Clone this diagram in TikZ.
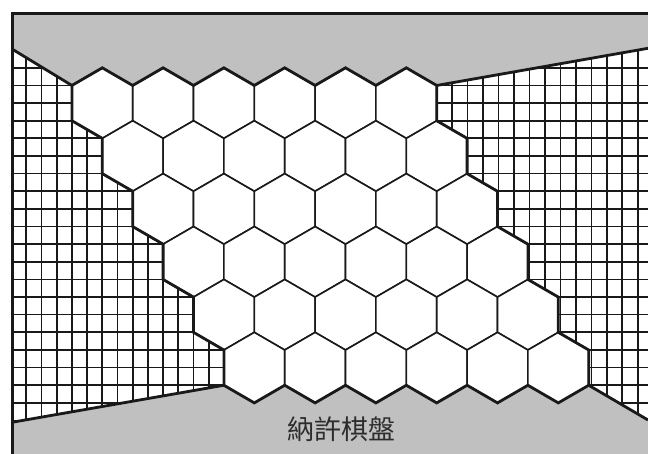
\documentclass[tikz,border=0pt]{standalone}
\usepackage{fontspec}
\newfontfamily\cjk{Noto Sans CJK TC}
\definecolor{boardgray}{RGB}{192,192,192}
\definecolor{ink}{RGB}{25,25,25}
\definecolor{textink}{RGB}{45,45,45}
\begin{document}
\begin{tikzpicture}[x=1pt,y=-1pt,
  gridline/.style={draw=ink, line width=1.7pt},
  hexcell/.style={fill=white, draw=ink, line width=1.6pt, line join=miter},
  boldline/.style={draw=ink, line width=2.8pt, line join=miter},
  grayzone/.style={fill=boardgray},
  framerule/.style={draw=ink, line width=3pt},
  titletext/.style={font=\cjk\fontsize{27}{27}\selectfont, text=textink}]
\useasboundingbox (0,0) rectangle (648,454);
\fill[white] (0,0) rectangle (648,454);
\def\W{60.8}
\def\S{35.27}
\def\XO{102.3}
\def\YO{103.1}
% hexagon vertex coordinates
\foreach \j in {0,...,5} {
  \foreach \i in {0,...,5} {
    \pgfmathsetmacro\cx{\XO+\W*\i+\W/2*\j}
    \pgfmathsetmacro\cy{\YO+1.5*\S*\j}
    \coordinate (h\i\j-t)  at (\cx,{\cy-\S});
    \coordinate (h\i\j-ur) at ({\cx+\W/2},{\cy-\S/2});
    \coordinate (h\i\j-lr) at ({\cx+\W/2},{\cy+\S/2});
    \coordinate (h\i\j-b)  at (\cx,{\cy+\S});
    \coordinate (h\i\j-ll) at ({\cx-\W/2},{\cy+\S/2});
    \coordinate (h\i\j-ul) at ({\cx-\W/2},{\cy-\S/2});
  }
}
% left grid
\begin{scope}
  \clip (12,13) rectangle (227,454);
  \foreach \k in {-5,...,11}
    \draw[gridline] ({71.9+15.2*\k},13) -- ({71.9+15.2*\k},454);
  \foreach \k in {0,...,21}
    \draw[gridline] (12,{67.83+17.63*\k}) -- (227,{67.83+17.63*\k});
\end{scope}
% right grid
\begin{scope}
  \clip (436,13) rectangle (648,454);
  \foreach \k in {0,...,14}
    \draw[gridline] ({436.7+15.47*\k},13) -- ({436.7+15.47*\k},454);
  \foreach \k in {0,...,21}
    \draw[gridline] (436,{67.83+17.63*\k}) -- (648,{67.83+17.63*\k});
\end{scope}
% gray zones
\fill[grayzone] (12,13) -- (648,13) -- (648,48.3)
  foreach \i in {5,...,0} { -- (h\i0-ur) -- (h\i0-t) }
  -- (h00-ul) -- (12,49) -- cycle;
\fill[grayzone] (12,454) -- (12,422.3) -- (h05-ll)
  foreach \i in {0,...,5} { -- (h\i5-b) -- (h\i5-lr) }
  -- (648,420) -- (648,454) -- cycle;
% hex cells
\foreach \j in {0,...,5} {
  \foreach \i in {0,...,5} {
    \draw[hexcell] (h\i\j-t) -- (h\i\j-ur) -- (h\i\j-lr) -- (h\i\j-b)
      -- (h\i\j-ll) -- (h\i\j-ul) -- cycle;
  }
}
% board outline
\draw[boldline] (h00-ul)
  foreach \i in {0,...,5} { -- (h\i0-t) -- (h\i0-ur) }
  -- (h50-lr) -- (h51-ur) -- (h51-lr) -- (h52-ur) -- (h52-lr)
  -- (h53-ur) -- (h53-lr) -- (h54-ur) -- (h54-lr) -- (h55-ur) -- (h55-lr)
  foreach \i in {5,...,0} { -- (h\i5-b) -- (h\i5-ll) }
  -- (h05-ul) -- (h04-ll) -- (h04-ul) -- (h03-ll) -- (h03-ul) -- (h02-ll)
  -- (h02-ul) -- (h01-ll) -- (h01-ul) -- (h00-ll) -- cycle;
% diagonal borders of gray zones
\draw[boldline] (12,49) -- (h00-ul);
\draw[boldline] (h50-ur) -- (648,48.3);
\draw[boldline] (12,422.3) -- (h05-ll);
\draw[boldline] (h55-lr) -- (648,420);
% frame
\draw[framerule] (12.5,454) -- (12.5,13.5) -- (648,13.5);
% title
\node[titletext] (title) at (341,429) {納許棋盤};
\end{tikzpicture}
\end{document}
